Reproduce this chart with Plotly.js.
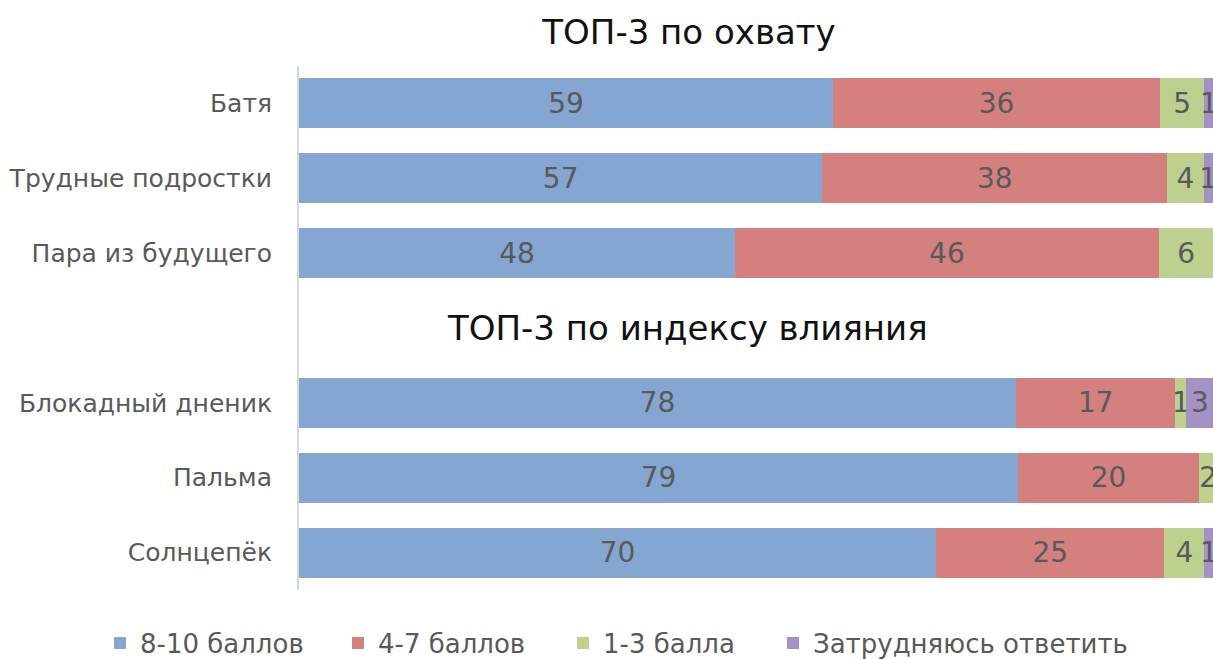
<!DOCTYPE html>
<html>
<head>
<meta charset="utf-8">
<script src="https://cdn.plot.ly/plotly-3.0.1.min.js"></script>
<style>
  html, body { margin: 0; padding: 0; background: #ffffff; }
  #chart { width: 1213px; height: 659px; }
</style>
</head>
<body>
<div id="chart"></div>
<script>
// Categories (top to bottom); the blank entry is the gap row holding the second heading
const categories = ["Батя", "Трудные подростки", "Пара из будущего", " ", "Блокадный дненик", "Пальма", "Солнцепёк"];

// Segment lengths
const high     = [58.7, 57.5, 47.9, null, 78.8, 79.0, 70.0];   // 8-10 баллов
const mid      = [35.9, 37.9, 46.6, null, 17.5, 19.9, 25.1];   // 4-7 баллов
const low      = [4.9,  4.0,  6.0,  null, 1.2,  2.0,  4.4];    // 1-3 балла
const unsure   = [1.0,  1.0,  null, null, 3.0,  null, 1.0];    // Затрудняюсь ответить

// Labels shown on the segments
const highLabels   = ["59", "57", "48", "", "78", "79", "70"];
const midLabels    = ["36", "38", "46", "", "17", "20", "25"];
const lowLabels    = ["5",  "4",  "6",  "", "1",  "2",  "4"];
const unsureLabels = ["1",  "1",  "",   "", "3",  "",   "1"];

const seriesNames = ["8-10 баллов", "4-7 баллов", "1-3 балла", "Затрудняюсь ответить"];
const seriesColors = ["#85A6D1", "#D4807F", "#BDD08E", "#A592C4"];

const titleMain = "ТОП-3 по охвату";
const titleSecond = "ТОП-3 по индексу влияния";

const FONT = "DejaVu Sans, sans-serif";
const series = [high, mid, low, unsure];
const labels = [highLabels, midLabels, lowLabels, unsureLabels];
const legendIds = ["legend", "legend2", "legend3", "legend4"];
const legendLeftPx = [100, 338, 563, 773];

const traces = series.map((vals, i) => ({
  type: "bar",
  orientation: "h",
  name: seriesNames[i],
  legend: legendIds[i],
  y: categories,
  x: vals,
  text: labels[i],
  textposition: "inside",
  insidetextanchor: "middle",
  constraintext: "none",
  textangle: 0,
  textfont: { family: FONT, size: 28, color: "#595959" },
  marker: { color: seriesColors[i], line: { width: 0 } },
  hoverinfo: "name+x"
}));

const layout = {
  width: 1213,
  height: 659,
  margin: { l: 299, r: 0, t: 66, b: 69 },
  paper_bgcolor: "#ffffff",
  plot_bgcolor: "#ffffff",
  barmode: "stack",
  bargap: 1/3,
  showlegend: true,
  font: { family: FONT, color: "#595959" },
  title: {
    text: titleMain,
    font: { family: FONT, size: 34, color: "#111111" },
    x: 689 / 1213,
    xanchor: "center",
    xref: "container",
    y: 1 - 32 / 659,
    yanchor: "middle",
    yref: "container"
  },
  xaxis: {
    range: [0, 100.44],
    showgrid: false,
    zeroline: false,
    showticklabels: false,
    showline: false,
    ticks: "",
    fixedrange: true
  },
  yaxis: {
    type: "category",
    categoryorder: "array",
    categoryarray: categories,
    autorange: "reversed",
    showgrid: false,
    zeroline: false,
    showline: true,
    linecolor: "#d9d9d9",
    linewidth: 2,
    ticks: "",
    ticklabelstandoff: 20,
    tickfont: { family: FONT, size: 25, color: "#595959" },
    fixedrange: true
  },
  annotations: [{
    text: titleSecond,
    xref: "paper",
    yref: "y",
    x: (687 - 299) / 914,
    y: 3,
    xanchor: "center",
    yanchor: "middle",
    showarrow: false,
    font: { family: FONT, size: 34, color: "#111111" }
  }]
};

legendIds.forEach((id, i) => {
  layout[id] = {
    orientation: "h",
    xref: "container",
    yref: "container",
    x: legendLeftPx[i] / 1213,
    xanchor: "left",
    y: (659 - 643) / 659,
    yanchor: "middle",
    bgcolor: "rgba(0,0,0,0)",
    font: { family: FONT, size: 26, color: "#595959" }
  };
});

Plotly.newPlot("chart", traces, layout, { displayModeBar: false, staticPlot: true });
</script>
</body>
</html>
